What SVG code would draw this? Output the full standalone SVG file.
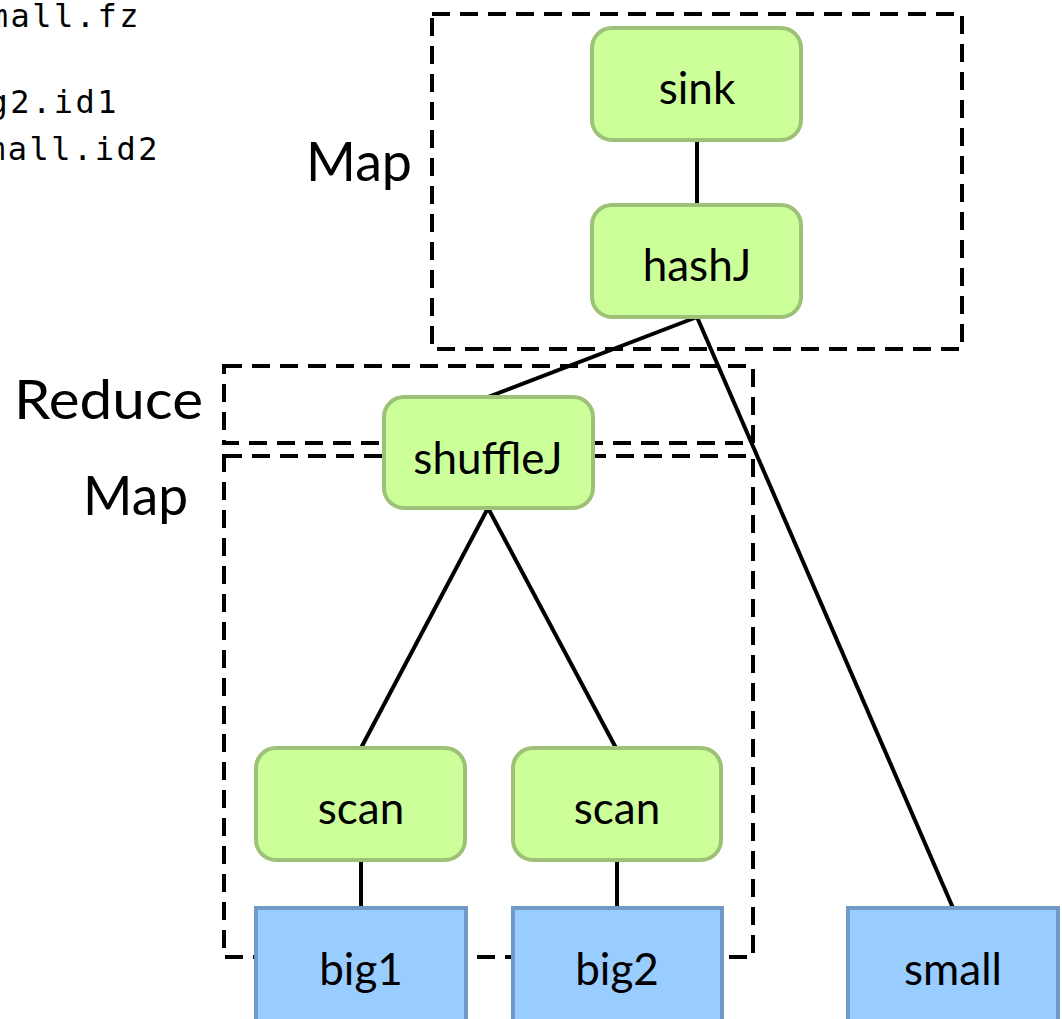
<svg xmlns="http://www.w3.org/2000/svg" width="1062" height="1019" viewBox="0 0 1062 1019">
<style>
.code{font-family:"DejaVu Sans Mono",monospace;font-size:32px;fill:#000;letter-spacing:2.5px}
.lbl{font-family:Lato,"Liberation Sans",sans-serif;font-size:55px;fill:#000}
.nt{font-family:Lato,"Liberation Sans",sans-serif;font-size:44px;fill:#000;text-anchor:middle}
.op{fill:#ccff99;stroke:#9dc277;stroke-width:4}
.src{fill:#99ccff;stroke:#7099c6;stroke-width:4}
.box{fill:none;stroke:#000;stroke-width:4;stroke-dasharray:18 10}
.edge{stroke:#000;stroke-width:4;fill:none}
</style>
<rect width="1062" height="1019" fill="#fff"/>
<g id="code">
<text class="code" x="141" y="27" text-anchor="end">small.fz</text>
<text class="code" x="119" y="113" text-anchor="end">big2.id1</text>
<text class="code" x="160" y="160" text-anchor="end">small.id2</text>
</g>
<g id="regions">
<rect class="box" x="432" y="14" width="530" height="335"/>
<rect class="box" x="224" y="366" width="529" height="77"/>
<rect class="box" x="224" y="456" width="529" height="501"/>
<text class="lbl" x="306" y="181" textLength="106" lengthAdjust="spacingAndGlyphs">Map</text>
<text class="lbl" x="14" y="419" textLength="189" lengthAdjust="spacingAndGlyphs">Reduce</text>
<text class="lbl" x="83" y="515" textLength="105" lengthAdjust="spacingAndGlyphs">Map</text>
</g>
<g id="connectors">
<line class="edge" x1="697" y1="140" x2="697" y2="205"/>
<line class="edge" x1="697" y1="317" x2="488" y2="397"/>
<line class="edge" x1="697" y1="317" x2="953" y2="908"/>
<line class="edge" x1="488" y1="508" x2="361" y2="748"/>
<line class="edge" x1="488" y1="508" x2="616" y2="748"/>
<line class="edge" x1="361" y1="860" x2="361" y2="908"/>
<line class="edge" x1="617" y1="860" x2="617" y2="908"/>
</g>
<g id="sink"><rect class="op" x="592" y="28" width="209" height="112" rx="20"/><text class="nt" x="697" y="104">sink</text></g>
<g id="hashJ"><rect class="op" x="592" y="205" width="209" height="112" rx="20"/><text class="nt" x="697" y="281">hashJ</text></g>
<g id="shuffleJ"><rect class="op" x="384" y="397" width="209" height="111" rx="20"/><text class="nt" x="488" y="474">shuffleJ</text></g>
<g id="scan1"><rect class="op" x="256" y="748" width="209" height="112" rx="20"/><text class="nt" x="361" y="824">scan</text></g>
<g id="scan2"><rect class="op" x="513" y="748" width="208" height="112" rx="20"/><text class="nt" x="617" y="824">scan</text></g>
<g id="big1"><rect class="src" x="256" y="908" width="210" height="120"/><text class="nt" x="361" y="985">big1</text></g>
<g id="big2"><rect class="src" x="513" y="908" width="209" height="120"/><text class="nt" x="617" y="985">big2</text></g>
<g id="small"><rect class="src" x="848" y="908" width="210" height="120"/><text class="nt" x="953" y="985">small</text></g>
</svg>
